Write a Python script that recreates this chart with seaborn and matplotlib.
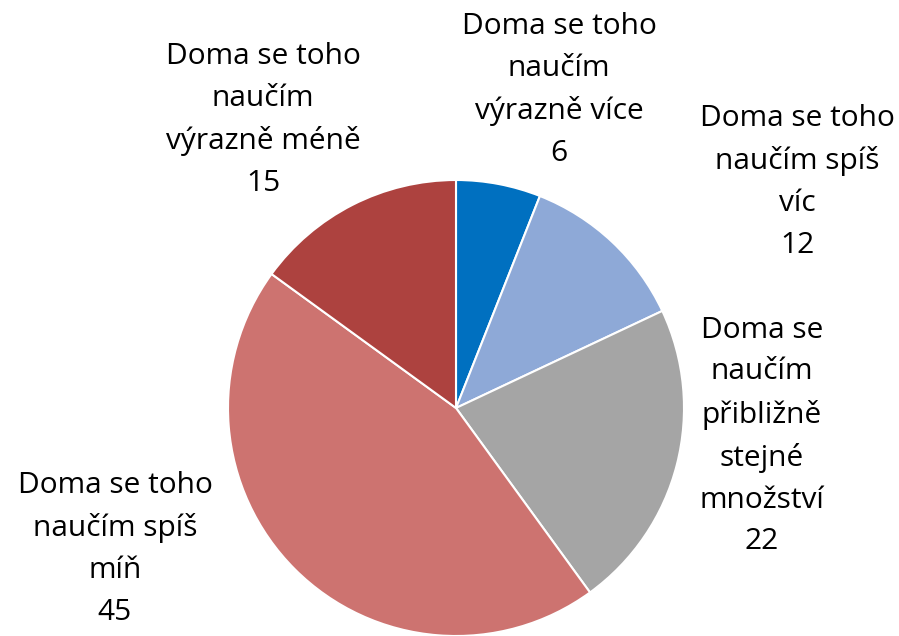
import matplotlib
matplotlib.use("Agg")
import matplotlib.pyplot as plt
import seaborn as sns

# data
labels = ["Doma se toho\nnaučím\nvýrazně více", "Doma se toho\nnaučím spíš\nvíc",
          "Doma se\nnaučím\npřibližně\nstejné\nmnožství", "Doma se toho\nnaučím spíš\nmíň",
          "Doma se toho\nnaučím\nvýrazně méně"]
values = [6, 12, 22, 45, 15]
colors = ["#0070C0", "#8EA9D7", "#A5A5A5", "#CD7370", "#AD423F"]

# label centres in pixels (x, y from top) as placed in the original
label_px = [(559, 90), (797, 182), (762, 436), (115, 549), (263, 120)]

sns.set_theme(style="white")
plt.rcParams['font.family'] = ['Open Sans', 'DejaVu Sans']

W, H = 899, 636
cx, cy, r = 456, 408, 228
fig = plt.figure(figsize=(W / 100, H / 100), dpi=100)
ax = fig.add_axes([(cx - r) / W, (H - cy - r) / H, 2 * r / W, 2 * r / H])
ax.pie(values, colors=colors, startangle=90, counterclock=False,
       wedgeprops=dict(edgecolor="white", linewidth=1.5), radius=1)
ax.set_xlim(-1, 1)
ax.set_ylim(-1, 1)
ax.set_aspect("equal")
ax.axis("off")

for lab, v, (px, py) in zip(labels, values, label_px):
    ax.text((px - cx) / r, (cy - py) / r, f"{lab}\n{v}", ha="center", va="center",
            fontsize=21.5, color="#000000", linespacing=1.58, clip_on=False)

fig.savefig("out.png", dpi=100, facecolor="white")
